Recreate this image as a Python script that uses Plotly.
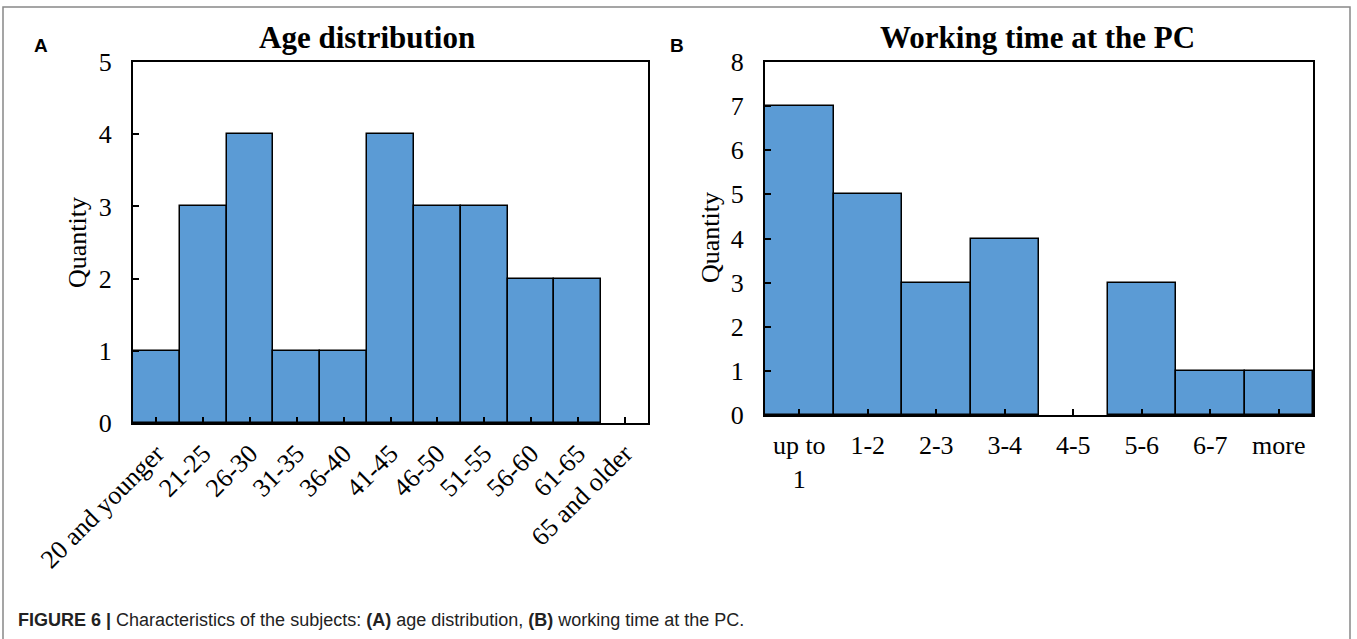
import plotly.graph_objects as go
from plotly.subplots import make_subplots

# Panel A: age distribution
age_groups = ["20 and younger", "21-25", "26-30", "31-35", "36-40", "41-45",
              "46-50", "51-55", "56-60", "61-65", "65 and older"]
age_counts = [1, 3, 4, 1, 1, 4, 3, 3, 2, 2, 0]

# Panel B: working time at the PC (hours)
work_groups = ["up to<br>1", "1-2", "2-3", "3-4", "4-5", "5-6", "6-7", "more"]
work_counts = [7, 5, 3, 4, 0, 3, 1, 1]

W, H = 1357, 639
BAR = "#5B9BD5"
SERIF = "Liberation Serif, Times New Roman, serif"


def outline(vals):
    # no outline on empty bins, otherwise they thicken the axis line
    return dict(color="black", width=[0 if v == 0 else 1.5 for v in vals])


fig = make_subplots(rows=1, cols=2)

fig.add_trace(go.Bar(x=age_groups, y=age_counts, marker_color=BAR,
                     marker_line=outline(age_counts)), 1, 1)
fig.add_trace(go.Bar(x=work_groups, y=work_counts, marker_color=BAR,
                     marker_line=outline(work_counts)), 1, 2)

axis_style = dict(showline=True, linecolor="black", linewidth=2, mirror=True,
                  ticks="inside", ticklen=6, tickcolor="black", tickwidth=1.5,
                  showgrid=False, zeroline=False, automargin=False,
                  tickfont=dict(family=SERIF, size=26, color="black"))

fig.update_xaxes(**axis_style)
fig.update_yaxes(**axis_style, ticklabelstandoff=14)

fig.update_layout(
    width=W, height=H,
    margin=dict(l=0, r=0, t=0, b=0),
    paper_bgcolor="white", plot_bgcolor="white",
    showlegend=False, bargap=0,
    xaxis=dict(domain=[133 / W, 648 / W], tickangle=-45, ticklabelstandoff=3),
    yaxis=dict(domain=[1 - 423 / H, 1 - 62 / H], range=[0, 5], dtick=1),
    xaxis2=dict(domain=[765 / W, 1313 / W], tickangle=0, ticklabelstandoff=6),
    yaxis2=dict(domain=[1 - 415 / H, 1 - 62 / H], range=[0, 8], dtick=1),
)

ann = [
    dict(text="<b>Age distribution</b>", x=367 / W, y=1 - 38 / H,
         font=dict(family=SERIF, size=31, color="black")),
    dict(text="<b>Working time at the PC</b>", x=1037 / W, y=1 - 38 / H,
         font=dict(family=SERIF, size=31, color="black")),
    dict(text="Quantity", x=78 / W, y=1 - 243 / H, textangle=-90,
         font=dict(family=SERIF, size=26, color="black")),
    dict(text="Quantity", x=710 / W, y=1 - 238 / H, textangle=-90,
         font=dict(family=SERIF, size=26, color="black")),
    dict(text="<b>A</b>", x=41 / W, y=1 - 45 / H,
         font=dict(family="Liberation Sans, Arial", size=19, color="black")),
    dict(text="<b>B</b>", x=677 / W, y=1 - 45 / H,
         font=dict(family="Liberation Sans, Arial", size=19, color="black")),
    dict(text="<b>FIGURE 6 |</b> Characteristics of the subjects: <b>(A)</b> age distribution, "
              "<b>(B)</b> working time at the PC.",
         x=16 / W, y=1 - 620 / H, xanchor="left",
         font=dict(family="Liberation Sans, Arial", size=18, color="#222")),
]
for a in ann:
    a.setdefault("xanchor", "center")
    fig.add_annotation(xref="paper", yref="paper", yanchor="middle",
                       showarrow=False, **a)

# frame around the whole figure panel
fig.add_shape(type="rect", xref="paper", yref="paper",
              x0=3 / W, x1=1350 / W, y0=-0.2, y1=1 - 7 / H,
              line=dict(color="#888888", width=1.5))

# drop the default body margin so the figure sits at the window origin
fig.write_html("out.html", config={"displayModeBar": False},
               post_script="document.body.style.margin='0';")
